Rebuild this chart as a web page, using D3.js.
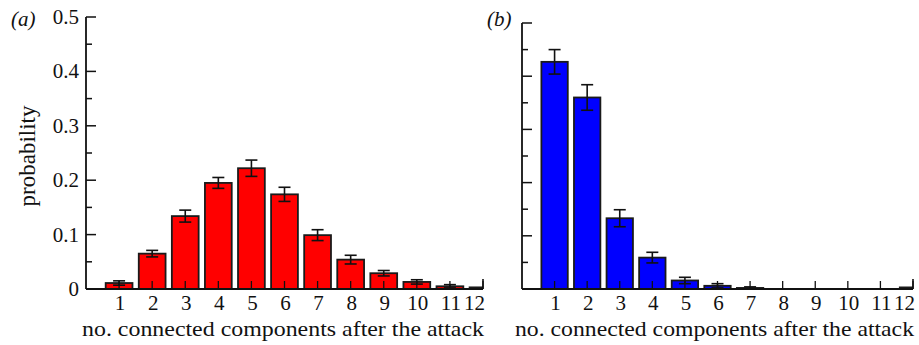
<!DOCTYPE html>
<html>
<head>
<meta charset="utf-8">
<script src="https://cdn.jsdelivr.net/npm/d3@7"></script>
<style>
  body { margin: 0; background: #fff; }
</style>
</head>
<body>
<svg id="chart" width="919" height="345"></svg>
<script>
const components = [1, 2, 3, 4, 5, 6, 7, 8, 9, 10, 11, 12];

// panel (a): red
const probA = [0.011, 0.065, 0.134, 0.195, 0.222, 0.174, 0.099, 0.054, 0.029, 0.013, 0.005, 0.003];
const errA = [0.004, 0.006, 0.011, 0.010, 0.015, 0.013, 0.010, 0.008, 0.005, 0.004, 0.003, 0.0];

// panel (b): blue
const probB = [0.427, 0.360, 0.133, 0.059, 0.016, 0.006, 0.002, 0, 0, 0, 0, 0.003];
const errB = [0.023, 0.024, 0.016, 0.010, 0.006, 0.004, 0.002, 0, 0, 0, 0, 0];

const yMajor = [0, 0.1, 0.2, 0.3, 0.4, 0.5];
const yMinor = [0.05, 0.15, 0.25, 0.35, 0.45];

const FONT = '"Liberation Serif", serif';
const INK = "#111";

const svg = d3.select("#chart");

const panels = [
    { id: "a", label: "(a)", color: "#ff0000", prob: probA, err: errA,
      x0: 86, x1: 483, yTop: 17, yBottom: 289, showY: true, labelX: 11, titleX: 82 },
    { id: "b", label: "(b)", color: "#0000ff", prob: probB, err: errB,
      x0: 522, x1: 913, yTop: 23, yBottom: 289, showY: false, labelX: 487, titleX: 515 },
];

for (const p of panels) {
    const x = d3.scaleLinear().domain([0, 12]).range([p.x0, p.x1]);
    const y = d3.scaleLinear().domain([0, 0.5]).range([p.yBottom, p.yTop]);
    const step = x(1) - x(0);
    const barW = step * 0.81;

    const g = svg.append("g").attr("id", "panel-" + p.id);

    g.append("clipPath")
        .attr("id", "clip-" + p.id)
        .append("rect")
        .attr("x", p.x0)
        .attr("y", p.yTop - 10)
        .attr("width", p.x1 - p.x0)
        .attr("height", p.yBottom - p.yTop + 10);

    const data = components.map((c, i) => ({ c, v: p.prob[i], e: p.err[i] }));

    const plot = g.append("g").attr("clip-path", `url(#clip-${p.id})`);

    plot.selectAll("rect.bar")
        .data(data.filter((d) => d.v > 0))
        .join("rect")
        .attr("class", "bar")
        .attr("x", (d) => x(d.c) - barW / 2)
        .attr("width", barW)
        .attr("y", (d) => y(d.v))
        .attr("height", (d) => y(0) - y(d.v))
        .attr("fill", p.color)
        .attr("stroke", "#1a1a1a")
        .attr("stroke-width", 1.8);

    const eb = plot.selectAll("g.err")
        .data(data.filter((d) => d.e > 0))
        .join("g")
        .attr("class", "err")
        .attr("stroke", INK)
        .attr("stroke-width", 1.6);
    eb.append("line")
        .attr("x1", (d) => x(d.c)).attr("x2", (d) => x(d.c))
        .attr("y1", (d) => y(d.v + d.e)).attr("y2", (d) => y(d.v - d.e));
    eb.append("line")
        .attr("x1", (d) => x(d.c) - 6).attr("x2", (d) => x(d.c) + 6)
        .attr("y1", (d) => y(d.v + d.e)).attr("y2", (d) => y(d.v + d.e));
    eb.append("line")
        .attr("x1", (d) => x(d.c) - 6).attr("x2", (d) => x(d.c) + 6)
        .attr("y1", (d) => y(d.v - d.e)).attr("y2", (d) => y(d.v - d.e));

    // x ticks (inward, on top of bars)
    g.append("g")
        .selectAll("line")
        .data(components)
        .join("line")
        .attr("x1", (d) => x(d))
        .attr("x2", (d) => x(d))
        .attr("y1", y(0))
        .attr("y2", y(0) - 8)
        .attr("stroke", INK)
        .attr("stroke-width", 1.3);

    // axes lines
    g.append("line")
        .attr("x1", p.x0).attr("x2", p.x1)
        .attr("y1", y(0)).attr("y2", y(0))
        .attr("stroke", INK).attr("stroke-width", 1.8);
    g.append("line")
        .attr("x1", p.x0).attr("x2", p.x0)
        .attr("y1", y(0)).attr("y2", y(0.5))
        .attr("stroke", INK).attr("stroke-width", 1.8);
    // right end tick of x axis
    g.append("line")
        .attr("x1", p.x1).attr("x2", p.x1)
        .attr("y1", y(0)).attr("y2", y(0) - 10)
        .attr("stroke", INK).attr("stroke-width", 1.6);

    // y ticks (inward)
    g.append("g")
        .selectAll("line")
        .data(yMajor.filter((d) => d > 0))
        .join("line")
        .attr("x1", p.x0).attr("x2", p.x0 + 10)
        .attr("y1", (d) => y(d)).attr("y2", (d) => y(d))
        .attr("stroke", INK).attr("stroke-width", 1.5);
    g.append("g")
        .selectAll("line")
        .data(yMinor)
        .join("line")
        .attr("x1", p.x0).attr("x2", p.x0 + 6)
        .attr("y1", (d) => y(d)).attr("y2", (d) => y(d))
        .attr("stroke", INK).attr("stroke-width", 1.5);

    if (p.showY) {
        g.append("g")
            .selectAll("text")
            .data(yMajor)
            .join("text")
            .attr("x", p.x0 - 7)
            .attr("y", (d) => y(d) + 7)
            .attr("text-anchor", "end")
            .attr("font-size", 21)
            .style("font-family", FONT)
            .attr("fill", INK)
            .text((d) => (d === 0 ? "0" : d.toFixed(1)));

        g.append("text")
            .attr("transform", "translate(35,156) rotate(-90)")
            .attr("text-anchor", "middle")
            .attr("font-size", 23)
            .style("font-family", FONT)
            .attr("fill", INK)
            .text("probability");
    }

    // x tick labels
    g.append("g")
        .selectAll("text")
        .data(components)
        .join("text")
        .attr("x", (d) => (d === 12 ? x(d) + 2 : x(d) + 1))
        .attr("y", 310)
        .attr("text-anchor", (d) => (d === 12 ? "end" : "middle"))
        .attr("font-size", 21)
        .style("font-family", FONT)
        .attr("fill", INK)
        .text((d) => d);

    g.append("text")
        .attr("x", p.x1 + 1)
        .attr("y", 336)
        .attr("text-anchor", "end")
        .attr("font-size", 22)
        .attr("textLength", p.x1 + 1 - p.titleX)
        .attr("lengthAdjust", "spacingAndGlyphs")
        .style("font-family", FONT)
        .attr("fill", INK)
        .text("no. connected components after the attack");

    g.append("text")
        .attr("x", p.labelX)
        .attr("y", 26)
        .attr("font-size", 21)
        .attr("font-style", "italic")
        .style("font-family", FONT)
        .attr("fill", INK)
        .text(p.label);
}
</script>
</body>
</html>
